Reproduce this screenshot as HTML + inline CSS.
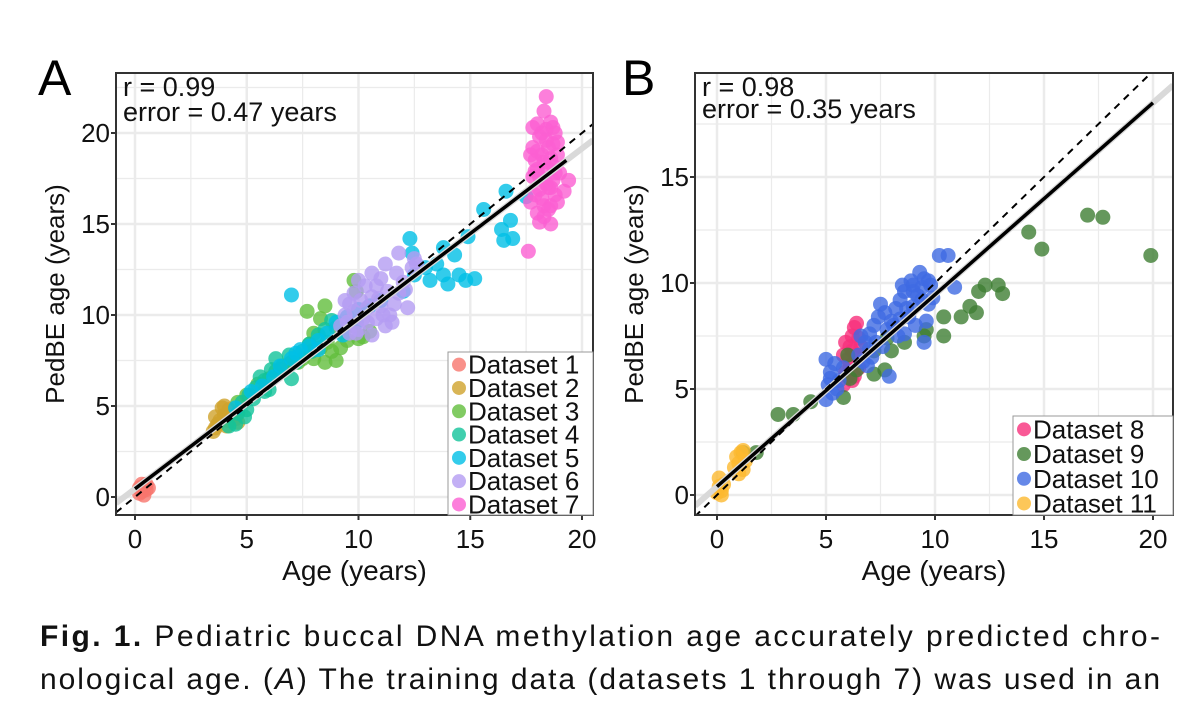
<!DOCTYPE html>
<html><head><meta charset="utf-8">
<style>
html,body{margin:0;padding:0;background:#fff;}
svg{display:block;font-family:"Liberation Sans",sans-serif;}
</style></head>
<body>
<svg id="fig" width="1200" height="701" viewBox="0 0 1200 701" xmlns="http://www.w3.org/2000/svg">
  <text x="38" y="95" font-size="50">A</text>
  <text x="622" y="95" font-size="50">B</text>
  <g id="pa"></g>
  <g id="pb"></g>
  <text x="40" y="646" font-size="30" textLength="1120" lengthAdjust="spacing" fill="#111"><tspan font-weight="bold">Fig. 1.</tspan>  Pediatric buccal DNA methylation age accurately predicted chro-</text>
  <text x="40" y="689" font-size="30" textLength="1120" lengthAdjust="spacing" fill="#111">nological age. (<tspan font-style="italic">A</tspan>) The training data (datasets 1 through 7) was used in an</text>
</svg>
<script>
const NS="http://www.w3.org/2000/svg";
// Panel A data
const aNames=["Dataset 1","Dataset 2","Dataset 3","Dataset 4","Dataset 5","Dataset 6","Dataset 7"];
const aColors=["#F8766D","#D0A22C","#62BE3C","#12C39A","#00BFE6","#B49CF2","#FB5FD2"];
const aD1=[[0.2,0.5],[0.3,0.3],[0.4,0.6],[0.5,0.4],[0.3,0.7],[0.6,0.5],[0.2,0.2],[0.4,0.1],[0.5,0.7]];
const aD2=[[3.6,3.8],[3.8,4.2],[4,4.5],[4.2,4.8],[3.7,4],[4.5,4.3],[4.1,3.9],[3.9,4.9],[4.4,4.6],[3.5,3.6],[4.6,4.1],[4.2,4.2],[3.6,4.4],[4.0,5.0]];
const aD3=[[4.6,5.2],[5,5.6],[5.5,6.2],[6,6.5],[6.5,7],[7,7.4],[7.5,7.6],[7.8,8.4],[8,9],[8.3,9.8],[8.5,7.4],[8.8,8],[9,7.5],[9.2,8.2],[9.5,8.6],[9.8,9.4],[7.7,10.2],[8.5,10.5],[9.8,11.9],[9.9,11.3],[10,8.7],[10.5,9.1],[8.0,7.6],[7.3,7.4],[9,9.3],[8.6,8.5],[6.9,7.3],[10.2,8.8],[8.3,8.2],[9.3,9.0]];
const aD4=[[4.2,3.9],[4.6,4.6],[4.8,5.2],[5.1,5.6],[5.4,6],[5.8,6.4],[6.1,7.0],[6.3,7.6],[6.6,7.2],[7.0,6.5],[7.2,7.4],[7.5,8],[7.8,8.4],[8.2,8.9],[8.5,9.2],[5.3,5.4],[5.8,5.8],[6.3,6.9],[4.5,4.0],[5,4.8],[7.9,8.0],[8.8,9.7],[5.6,6.6],[6.9,7.8],[6.0,5.9],[4.9,4.4]];
const aD5=[[4.5,4.9],[5.2,5.8],[5.7,6.1],[6.2,6.6],[6.5,7.2],[7,7.6],[7.4,8.1],[7.8,8.3],[8.2,8.6],[8.6,9],[9,9.6],[9.5,9.9],[10,10.3],[10.5,10.5],[11,10.8],[7,11.1],[12,11.3],[12.5,12.2],[13,12.6],[13.5,12.8],[13.8,12.2],[14,11.7],[14.8,11.9],[14.5,12.2],[13.2,11.9],[15.2,12.0],[14.3,13.3],[13.8,13.7],[12.4,13.4],[14.9,14.3],[15.6,15.8],[16.6,16.8],[17.5,16.5],[16.8,15.2],[16.4,14.7],[16.5,14.1],[16.9,14.2],[12.3,14.2],[9.9,9.6],[8.2,8.1],[7.2,7.9],[9.3,8.9]];
const aD6=[[9.2,9.4],[9.4,10],[9.6,10.6],[9.8,11.2],[10,9.2],[10.2,9.8],[10.4,10.4],[10.6,11],[10.8,11.6],[11,12],[11.2,9.4],[11.4,10],[11.6,10.6],[11.8,11.2],[12,11.8],[12.2,10.4],[12.4,12.6],[12.6,12.8],[11.8,13.4],[11.2,12.8],[9.6,9],[10.8,9.8],[12.1,11.4],[10.3,11.6],[9.4,10.8],[11.5,9.6],[10.6,8.9],[11,10.5],[12.5,13.1],[10,11.9],[9.8,10.2],[10.4,9.6],[10.9,10.9],[11.3,11.3],[10.1,10.8],[9.5,9.6],[11.7,12.3],[10.6,12.3],[9.9,9.0],[11.1,10.0]];
const aD7=[[17.8,20.3],[17.8,19.2],[17.9,18.5],[17.8,17.6],[17.9,16.6],[18,15.6],[18,20.5],[18.1,19.8],[18.2,18.8],[18.1,17.6],[18.2,16.4],[18.3,15.4],[18.3,21.2],[18.4,22],[18.4,20.2],[18.5,19.2],[18.5,18],[18.5,17],[18.6,16],[18.6,20.6],[18.7,19.4],[18.7,18.2],[18.7,17.4],[18.8,16.6],[18.8,20],[18.9,18.8],[19,17.8],[19.4,17.4],[19.2,16.8],[17.6,13.5],[18.6,15],[18.1,15.1],[18.9,19.5],[18.3,18.4],[17.7,18.8],[18.0,19.0],[18.2,20.0],[18.4,17.2],[18.6,18.6],[18.8,17.8],[18.1,16.9],[18.3,16.0],[18.5,15.8],[17.9,17.9],[18.7,20.3],[18.9,16.2],[18.0,18.0],[18.4,19.6],[18.6,17.0],[17.7,16.2]];
const aSeries=[aD1,aD2,aD3,aD4,aD5,aD6,aD7];
// Panel B data
const bNames=["Dataset 8","Dataset 9","Dataset 10","Dataset 11"];
const bColors=["#F7307C","#3E7E33","#3F6AE2","#FDB930"];
const bD8=[[5.8,5.2],[5.9,5.8],[6,6.4],[6.1,7],[6.2,7.5],[6.3,7.9],[6.4,6.6],[6.5,6.0],[5.9,7.2],[6.2,5.4],[6.6,7.0],[6.1,6.1],[6.3,5.6],[6.4,8.1],[5.8,6.6],[6.0,5.6],[6.2,6.8],[6.5,7.4]];
const bD9=[[2.8,3.8],[3.5,3.8],[4.3,4.4],[1.2,2],[1.8,2],[5.8,4.6],[7.2,5.7],[7.7,5.9],[8,6.8],[9.5,7.5],[10.4,7.5],[10.4,8.4],[11.6,8.9],[11.2,8.4],[11.9,8.6],[12,9.6],[12.3,9.9],[12.9,9.9],[13.1,9.5],[14.3,12.4],[14.9,11.6],[17,13.2],[17.7,13.1],[19.9,11.3],[6,6.6],[6.4,5.9],[7.2,6.8],[8.6,7.2],[9.6,7.8],[6.1,5.5],[7.8,7.4]];
const bD10=[[5,4.5],[5.1,5.2],[5.2,5.8],[5.4,6.2],[5.3,4.8],[5.6,5.4],[5,6.4],[5.8,6.0],[6.5,6.6],[6.8,7.2],[7,7.6],[7.2,8],[7.4,8.4],[7.6,7.0],[7.8,7.8],[8,8.2],[8.2,8.8],[8.4,9.2],[8.6,9.6],[8.8,8.4],[9,8.9],[9.2,9.4],[9.4,9.8],[9.5,10.2],[9.6,8.2],[9.7,9],[9.3,10.5],[10.2,11.3],[10.6,11.3],[9.5,7.2],[8.6,7.6],[7.9,5.6],[7.1,6.5],[9.8,9.9],[8.9,10.1],[7.5,9.0],[6.9,6.1],[10.9,9.8],[8.3,7.5],[9,9.6],[6.6,7.5],[5.5,5.0],[7.3,7.2],[8.1,8.0],[8.7,8.8],[9.1,8.0],[9.9,9.3],[7.7,8.6],[8.4,8.3],[9.4,9.2],[7.0,6.9],[5.2,5.5],[6.7,6.3],[9.7,10.1],[8.5,9.9],[9.0,9.9]];
const bD11=[[0,0.1],[0.1,0.4],[0.2,0.2],[0.1,0.8],[0.3,0.5],[0.2,0],[1,1.5],[1.1,2],[1.2,1.2],[0.9,1.8],[1.3,1.6],[1,1],[1.2,2.1],[0.8,1.3]];
const bSeries=[bD8,bD9,bD10,bD11];
const aTicks=[0,5,10,15,20];
const bXTicks=[0,5,10,15,20];
const bYTicks=[0,5,10,15];

function mk(tag,attrs,parent){const e=document.createElementNS(NS,tag);for(const k in attrs)e.setAttribute(k,attrs[k]);parent.appendChild(e);return e;}

function panel(g,cfg){
  const X=v=>cfg.x0+(v)*cfg.sx, Y=v=>cfg.y0-(v)*cfg.sy;
  const L=cfg.box[0],T=cfg.box[1],R=cfg.box[2],B=cfg.box[3];
  const bg=mk('rect',{x:L,y:T,width:R-L,height:B-T,fill:'#fff'},g);
  
  
  const cp=mk('clipPath',{id:cfg.id+'clip'},g);mk('rect',{x:L,y:T,width:R-L,height:B-T},cp);
  const grid=mk('g',{},g);
  
  
  const xmin=(L-cfg.x0)/cfg.sx,xmax=(R-cfg.x0)/cfg.sx,ymin=(cfg.y0-B)/cfg.sy,ymax=(cfg.y0-T)/cfg.sy;
  for(let v=Math.ceil(xmin/2.5)*2.5;v<=xmax;v+=2.5){mk('line',{x1:X(v),x2:X(v),y1:T,y2:B,stroke:'#ebebeb','stroke-width':v%5===0?2.5:1.2},grid);}
  for(let v=Math.ceil(ymin/2.5)*2.5;v<=ymax;v+=2.5){mk('line',{x1:L,x2:R,y1:Y(v),y2:Y(v),stroke:'#ebebeb','stroke-width':v%5===0?2.5:1.2},grid);}
  const pts=mk('g',{'clip-path':'url(#'+cfg.id+'clip)'},g);
  cfg.series.forEach((s,i)=>{
    const sg=mk('g',{},pts);
    
    
    s.forEach(p=>{const c=mk('circle',{cx:X(p[0]),cy:Y(p[1]),r:7.5,fill:cfg.colors[i],'fill-opacity':0.8},sg);
      
      });
  });
  const lines=mk('g',{'clip-path':'url(#'+cfg.id+'clip)'},g);
  const band=mk('line',{x1:X(xmin),y1:Y(cfg.fit[0]+cfg.fit[1]*xmin),x2:X(xmax),y2:Y(cfg.fit[0]+cfg.fit[1]*xmax),stroke:'#d9d9d9','stroke-width':6},lines);
  
  
  const id=mk('line',{x1:X(xmin),y1:Y(xmin),x2:X(xmax),y2:Y(xmax),stroke:'#000','stroke-width':2,'stroke-dasharray':'7,6'},lines);
  
  
  const fl=mk('line',{x1:X(0),y1:Y(cfg.fit[0]),x2:X(cfg.fitEnd),y2:Y(cfg.fit[0]+cfg.fit[1]*cfg.fitEnd),stroke:'#000','stroke-width':3.5},lines);
  
  
  const fr=mk('rect',{x:L,y:T,width:R-L,height:B-T,fill:'none',stroke:'#333','stroke-width':2},g);
  
  
  cfg.xt.forEach(v=>{mk('line',{x1:X(v),x2:X(v),y1:B,y2:B+5,stroke:'#333','stroke-width':2},g);
    const t=mk('text',{x:X(v),y:B+33,'font-size':26,'text-anchor':'middle',fill:'#111'},g);t.textContent=v;
    
    });
  cfg.yt.forEach(v=>{mk('line',{x1:L-5,x2:L,y1:Y(v),y2:Y(v),stroke:'#333','stroke-width':2},g);
    const t=mk('text',{x:L-6,y:Y(v)+9,'font-size':26,'text-anchor':'end',fill:'#111'},g);t.textContent=v;
    
    });
  const xt=mk('text',{x:(L+R)/2,y:B+65,'font-size':28,'text-anchor':'middle',fill:'#111'},g);xt.textContent='Age (years)';
  
  
  const yt=mk('text',{x:0,y:0,'font-size':26,'text-anchor':'middle',fill:'#111',transform:`translate(${L-52},${(T+B)/2}) rotate(-90)`},g);yt.textContent='PedBE age  (years)';
  
  
  const r1=mk('text',{x:L+7,y:T+23,'font-size':27,fill:'#111'},g);r1.textContent=cfg.r;
  
  
  const r2=mk('text',{x:L+7,y:T+cfg.r2dy,'font-size':27,fill:'#111'},g);r2.textContent=cfg.err;
  
  
  const lg=mk('g',{},g);
  
  
  const lb=cfg.leg;
  mk('rect',{x:lb[0],y:lb[1],width:R-lb[0],height:B-lb[1],fill:'#fff',stroke:'#999','stroke-width':1},lg);
  cfg.names.forEach((n,i)=>{
    const e=mk('g',{},lg);
    
    
    const cy=lb[1]+lb[2]/2+1+i*lb[2];
    mk('circle',{cx:lb[0]+11,cy:cy,r:7,fill:cfg.colors[i],'fill-opacity':0.8},e);
    const t=mk('text',{x:lb[0]+20,y:cy+9,'font-size':26,fill:'#111'},e);t.textContent=n;
  });
}
panel(document.getElementById('pa'),{id:'a',x0:135,sx:22.35,y0:497,sy:18.2,box:[116,73,593,515],series:aSeries,colors:aColors,names:aNames,
  xt:aTicks,yt:aTicks,fit:[0.45,0.935],fitEnd:19.3,r:'r = 0.99',err:'error = 0.47 years',r2dy:48,leg:[448,352,23.3]});
panel(document.getElementById('pb'),{id:'b',x0:717,sx:21.8,y0:495,sy:21.2,box:[695,73,1173,515],series:bSeries,colors:bColors,names:bNames,
  xt:bXTicks,yt:bYTicks,fit:[0.4,0.905],fitEnd:20,r:'r = 0.98',err:'error = 0.35 years',r2dy:45,leg:[1013,416,24.7]});
</script>
</body></html>
